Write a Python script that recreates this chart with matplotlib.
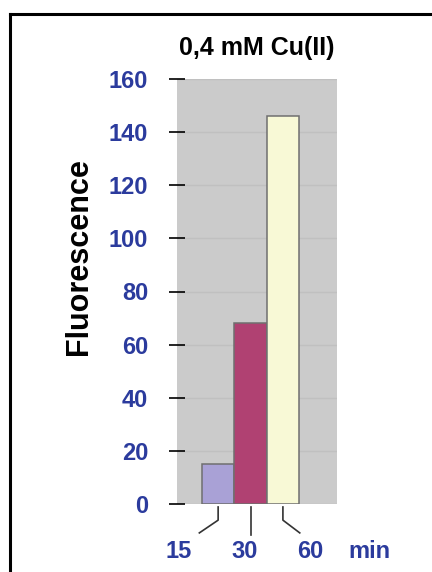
import numpy as np
import matplotlib
matplotlib.use('Agg')
import matplotlib.pyplot as plt
from matplotlib.lines import Line2D

# data
times = ['15', '30', '60']
values = [15, 68, 146]
bar_colors = ['#a9a1d6', '#b04172', '#f8f9d6']
yticks = [0, 20, 40, 60, 80, 100, 120, 140, 160]
unit = 'min'

blue = '#2b3b9d'
plt.rcParams['font.family'] = ['Liberation Sans', 'DejaVu Sans']
plt.rcParams['font.weight'] = 'bold'

fig = plt.figure(figsize=(4.32, 5.72), dpi=100)
ax = fig.add_axes([177/432, 1-504/572, 160/432, 425/572])

x = np.arange(len(times))
ax.bar(x, values, width=1.0, color=bar_colors, edgecolor='#6f6f6f', linewidth=1.1, zorder=3)

ax.set_facecolor('#cbcbcb')
ax.set_xlim(-1.27, 3.67)
ax.set_ylim(0, 160)
ax.set_yticks(yticks)
ax.yaxis.grid(True, color='#c0c0c0', linewidth=1, zorder=0)
for s in ax.spines.values():
    s.set_visible(False)
ax.tick_params(axis='y', direction='inout', length=11.5, width=1.2, color='black',
               pad=15, labelsize=17, labelcolor=blue)
ax.set_xticks([])

ax.set_title('0,4 mM Cu(II)', fontsize=18, fontweight='bold', pad=17)
ax.text(-0.61, 0.582, 'Fluorescence', transform=ax.transAxes, rotation=90,
        ha='center', va='center', fontsize=22, fontweight='bold')

# leader lines from the bars to the x labels
trans = ax.get_xaxis_transform()
bend = [-0.58, 0.0, 0.52]      # horizontal shift of the leader end
knee = [-0.038, -0.073, -0.038]
lab_shift = [-1.22, -0.18, 0.85]
for i, t in enumerate(times):
    xs = [x[i], x[i], x[i] + bend[i]]
    ys = [-0.007, knee[i], -0.068 if bend[i] != 0 else knee[i]]
    ax.add_line(Line2D(xs, ys, transform=trans, color='#333333', lw=1.2, clip_on=False))
    ax.text(x[i] + lab_shift[i], -0.112, t, transform=trans, ha='center', va='center',
            fontsize=17, fontweight='bold', color=blue)
ax.text(x[0] + 4.66, -0.112, unit, transform=trans, ha='center', va='center',
        fontsize=17, fontweight='bold', color=blue)

# frame around the figure
fig.add_artist(Line2D([9.5/432, 9.5/432], [0, 1-14/572], color='black', lw=2.2))
fig.add_artist(Line2D([9.5/432, 1], [1-14/572, 1-14/572], color='black', lw=2.2))

fig.savefig('out.png', dpi=100)
